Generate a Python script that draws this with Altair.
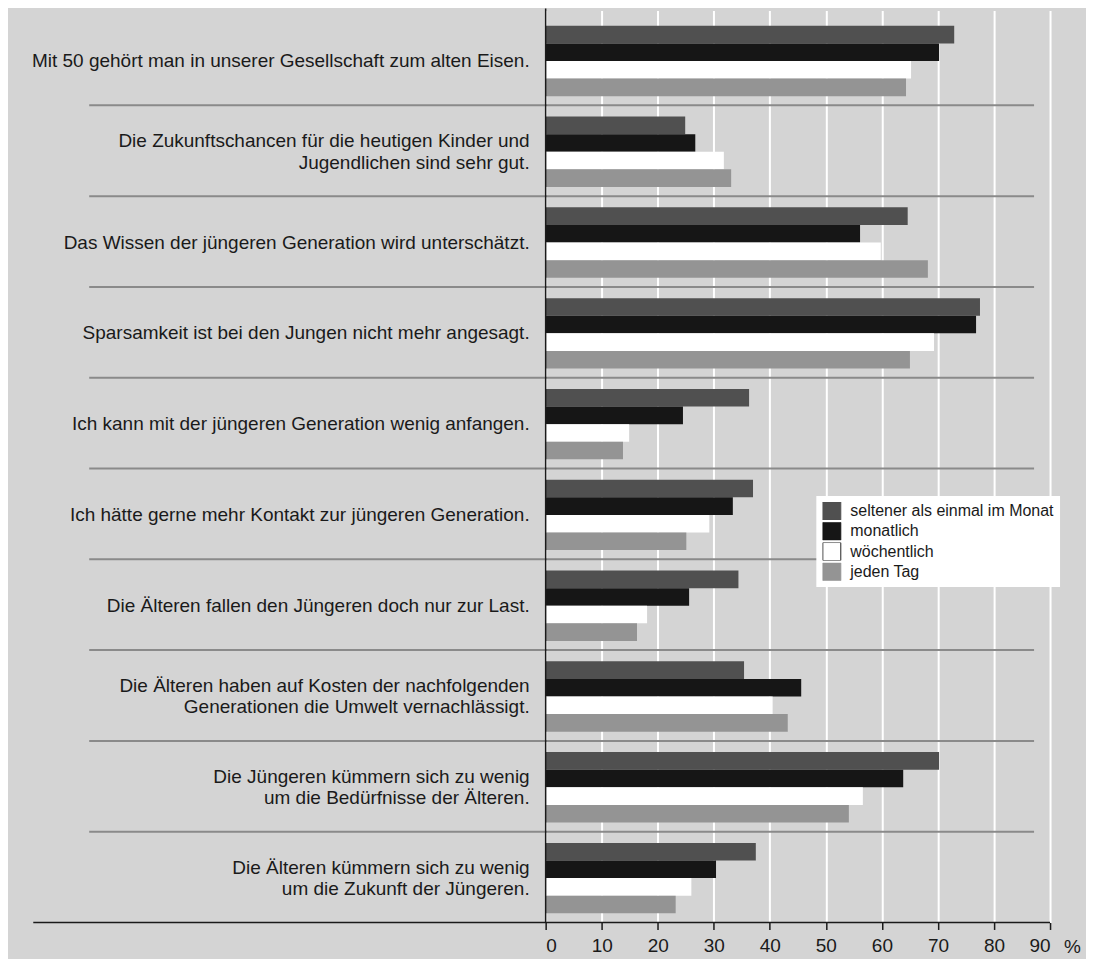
import altair as alt
import pandas as pd

categories = [
    "Mit 50 gehört man in unserer Gesellschaft zum alten Eisen.",
    "Die Zukunftschancen für die heutigen Kinder und\nJugendlichen sind sehr gut.",
    "Das Wissen der jüngeren Generation wird unterschätzt.",
    "Sparsamkeit ist bei den Jungen nicht mehr angesagt.",
    "Ich kann mit der jüngeren Generation wenig anfangen.",
    "Ich hätte gerne mehr Kontakt zur jüngeren Generation.",
    "Die Älteren fallen den Jüngeren doch nur zur Last.",
    "Die Älteren haben auf Kosten der nachfolgenden\nGenerationen die Umwelt vernachlässigt.",
    "Die Jüngeren kümmern sich zu wenig\num die Bedürfnisse der Älteren.",
    "Die Älteren kümmern sich zu wenig\num die Zukunft der Jüngeren.",
]
series = ["seltener als einmal im Monat", "monatlich", "wöchentlich", "jeden Tag"]
seltener = [72.9, 24.9, 64.6, 77.5, 36.3, 37.0, 34.4, 35.4, 70.2, 37.5]
monatlich = [70.2, 26.7, 56.1, 76.8, 24.5, 33.4, 25.6, 45.6, 63.8, 30.4]
woechentlich = [65.2, 31.8, 59.8, 69.3, 14.9, 29.2, 18.1, 40.5, 56.6, 26.0]
jeden_tag = [64.3, 33.1, 68.2, 65.0, 13.8, 25.1, 16.3, 43.2, 54.1, 23.2]
x_ticks = [0, 10, 20, 30, 40, 50, 60, 70, 80, 90]
unit_label = "%"

fill_colors = ["#505050", "#161616", "#ffffff", "#949494"]
stroke_colors = ["#505050", "#161616", "#222222", "#949494"]
FONT = "Liberation Sans"
TEXT = "#1a1a1a"
W, H = 505, 913

rows = []
for s, vals in zip(series, [seltener, monatlich, woechentlich, jeden_tag]):
    for c, v in zip(categories, vals):
        rows.append({"cat": c, "series": s, "value": v})
df = pd.DataFrame(rows)
single_df = pd.DataFrame({"cat": [c for c in categories if "\n" not in c]})
multi_df = pd.DataFrame({"cat": [c for c in categories if "\n" in c]})
sep_df = pd.DataFrame({"cat": categories[1:]})
one = pd.DataFrame({"a": [0]})
pct_df = pd.DataFrame({"x": [x_ticks[-1]], "t": [unit_label]})

y_scale = alt.Scale(domain=categories, paddingInner=0, paddingOuter=0.022, align=1)
x_scale = alt.Scale(domain=[0, 90], nice=False, zero=True)

legend = alt.Legend(
    title=None, orient="none", legendX=271, legendY=486, fillColor="white",
    padding=6, symbolType="square", symbolSize=324, symbolStrokeWidth=1,
    labelFont=FONT, labelFontSize=16, labelColor=TEXT, labelOffset=9,
    rowPadding=2.3, clipHeight=18, labelLimit=400,
)

bars = alt.Chart(df).mark_bar(strokeWidth=0).encode(
    x=alt.X("value:Q", scale=x_scale, axis=alt.Axis(
        values=x_ticks, grid=True, gridColor="white", gridWidth=2, domain=False,
        tickColor=TEXT, tickSize=7, tickWidth=1.5, labelFont=FONT, labelFontSize=19,
        labelColor=TEXT, labelPadding=7, title=None)),
    y=alt.Y("cat:N", scale=y_scale, axis=None),
    yOffset=alt.YOffset("series:N", sort=series,
                        scale=alt.Scale(domain=series, paddingInner=0, paddingOuter=0.58, align=0.55)),
    fill=alt.Fill("series:N", scale=alt.Scale(domain=series, range=fill_colors), legend=legend),
    stroke=alt.Stroke("series:N", scale=alt.Scale(domain=series, range=stroke_colors), legend=legend),
)

seps = alt.Chart(sep_df).mark_rule(color="#8a8a8a", strokeWidth=2).encode(
    y=alt.Y("cat:N", scale=y_scale, axis=None, bandPosition=0),
    x=alt.value(-457), x2=alt.value(489),
)


def label_layer(data, dy):
    return alt.Chart(data).mark_text(
        align="right", baseline="middle", lineBreak="\n", lineHeight=21.5,
        font=FONT, fontSize=19, color=TEXT, dy=dy,
    ).encode(
        y=alt.Y("cat:N", scale=y_scale, axis=None, bandPosition=0.5),
        x=alt.value(-16), text="cat:N",
    )


labels1 = label_layer(single_df, 1)
labels2 = label_layer(multi_df, -9.5)

x_line = alt.Chart(one).mark_rule(color=TEXT, strokeWidth=1.5).encode(
    x=alt.value(-513), x2=alt.value(W), y=alt.value(H),
)
y_line = alt.Chart(one).mark_rule(color=TEXT, strokeWidth=1.5).encode(
    x=alt.value(0), y=alt.value(-2), y2=alt.value(H),
)
pct = alt.Chart(pct_df).mark_text(
    align="left", baseline="middle", font=FONT, fontSize=19, color=TEXT, dx=14,
).encode(
    x=alt.X("x:Q", scale=x_scale), y=alt.value(H + 25), text="t:N",
)

chart = alt.layer(bars, seps, labels1, labels2, x_line, y_line, pct).properties(
    width=W, height=H,
    autosize=alt.AutoSizeParams(type="none"),
    padding={"left": 538.3, "top": 2, "right": 36, "bottom": 36},
    background="#d4d4d4",
).configure_view(stroke=None)

chart.save("out.html", embed_options={"renderer": "svg", "actions": False})
